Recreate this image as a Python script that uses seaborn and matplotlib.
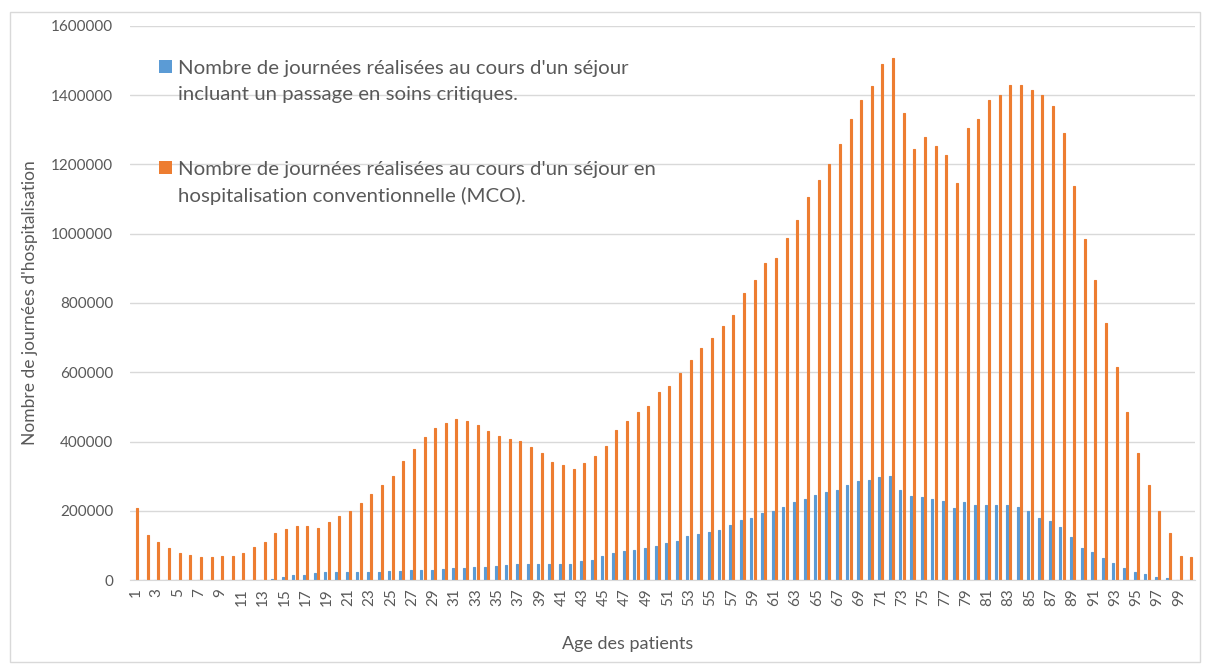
import matplotlib
matplotlib.use("Agg")
import matplotlib.pyplot as plt
from matplotlib.patches import Patch, Rectangle
import seaborn as sns
import pandas as pd

# ages 1..100
ages = list(range(1, 101))

# journées en séjour avec passage en soins critiques (bleu)
soins_critiques = [
    0, 0, 0, 0, 0, 0, 0, 0, 0, 0,
    0, 0, 0, 2000, 8000, 13000, 15000, 20000, 23000, 24000,
    24000, 24000, 24000, 24000, 25000, 25000, 28000, 29000, 29000, 31000,
    34000, 34000, 37000, 37000, 40000, 42000, 46000, 47000, 46000, 46000,
    47000, 47000, 55000, 58000, 68000, 77000, 84000, 87000, 93000, 99000,
    108000, 114000, 127000, 132000, 138000, 145000, 158000, 173000, 180000, 193000,
    199000, 210000, 224000, 235000, 246000, 254000, 259000, 273000, 286000, 290000,
    297000, 301000, 261000, 242000, 240000, 234000, 227000, 208000, 226000, 217000,
    216000, 216000, 217000, 210000, 198000, 180000, 170000, 152000, 123000, 93000,
    81000, 64000, 48000, 35000, 24000, 16000, 9000, 5000, 0, 0,
]

# journées en hospitalisation conventionnelle MCO (orange)
conventionnelle = [
    208000, 130000, 111000, 92000, 79000, 71000, 66000, 66000, 69000, 69000,
    79000, 95000, 111000, 136000, 146000, 155000, 155000, 149000, 167000, 185000,
    199000, 221000, 248000, 274000, 299000, 345000, 379000, 413000, 438000, 454000,
    464000, 459000, 449000, 429000, 416000, 406000, 401000, 384000, 366000, 341000,
    333000, 322000, 338000, 358000, 388000, 432000, 459000, 486000, 503000, 544000,
    561000, 597000, 636000, 669000, 698000, 734000, 766000, 828000, 865000, 916000,
    931000, 988000, 1039000, 1106000, 1156000, 1201000, 1258000, 1330000, 1387000, 1426000,
    1490000, 1507000, 1348000, 1245000, 1279000, 1253000, 1226000, 1147000, 1305000, 1332000,
    1385000, 1402000, 1431000, 1431000, 1416000, 1401000, 1370000, 1292000, 1137000, 986000,
    867000, 742000, 616000, 484000, 367000, 274000, 198000, 135000, 70000, 67000,
]

series_labels = [
    "Nombre de journées réalisées au cours d'un séjour\nincluant un passage en soins critiques.",
    "Nombre de journées réalisées au cours d'un séjour en\nhospitalisation conventionnelle (MCO).",
]
colors = ["#5B9BD5", "#ED7D31"]

df = pd.DataFrame({
    "age": ages * 2,
    "jours": soins_critiques + conventionnelle,
    "serie": [series_labels[0]] * len(ages) + [series_labels[1]] * len(ages),
})

sns.set_style("white")
plt.rcParams["font.family"] = ["Lato", "DejaVu Sans"]
text_color = "#595959"
grid_color = "#D9D9D9"

fig = plt.figure(figsize=(12.05, 6.64), dpi=100)
ax = fig.add_axes([130 / 1205, 84 / 664, 1065 / 1205, 554 / 664])

sns.barplot(data=df, x="age", y="jours", hue="serie", hue_order=series_labels,
            palette=colors, saturation=1, width=0.62, gap=0.4,
            legend=False, ax=ax)
# barres très fines : un contour de la même couleur évite qu'elles disparaissent
for bar in ax.patches:
    bar.set_edgecolor(bar.get_facecolor())
    bar.set_linewidth(0.8)

ax.set_xlim(-0.5, 99.5)
ax.set_ylim(0, 1600000)
ax.set_yticks(range(0, 1600001, 200000))
ax.set_yticklabels([str(v) for v in range(0, 1600001, 200000)])
ax.set_xticks(range(0, 100, 2))
ax.set_xticklabels([str(a) for a in ages[::2]], rotation=90)
ax.tick_params(axis="both", length=0, labelsize=11, labelcolor=text_color)
ax.tick_params(axis="y", pad=12)
ax.tick_params(axis="x", pad=6)

ax.grid(axis="y", color=grid_color, linewidth=1)
ax.set_axisbelow(True)
for side in ["top", "right", "left"]:
    ax.spines[side].set_visible(False)
ax.spines["bottom"].set_color(grid_color)

ax.set_xlabel("Age des patients", fontsize=13, color=text_color)
ax.xaxis.set_label_coords((628 - 130) / 1065, -(636 - 580) / 554)
ax.set_ylabel("Nombre de journées d'hospitalisation", fontsize=12.5, color=text_color)
ax.yaxis.set_label_coords(-(130 - 38) / 1065, 0.5)

handles = [Patch(facecolor=c, edgecolor="none") for c in colors]
leg = ax.legend(handles, series_labels, loc="upper left",
                bbox_to_anchor=(141 / 1205, 1 - 42 / 664), bbox_transform=fig.transFigure,
                frameon=False, fontsize=14.7, labelspacing=2.85,
                handlelength=0.6, handleheight=0.6, handletextpad=0.3,
                labelcolor=text_color)
for t in leg.get_texts():
    t.set_linespacing(1.6)
# carré aligné sur la première ligne du libellé
for col in leg._legend_handle_box.get_children():
    for row in col.get_children():
        row.align = "top"

# cadre gris clair autour du graphique
fig.patches.append(Rectangle((10 / 1205, 2 / 664), 1190 / 1205, 650 / 664,
                             transform=fig.transFigure, fill=False,
                             edgecolor=grid_color, linewidth=1))

fig.savefig("out.png", dpi=100)
